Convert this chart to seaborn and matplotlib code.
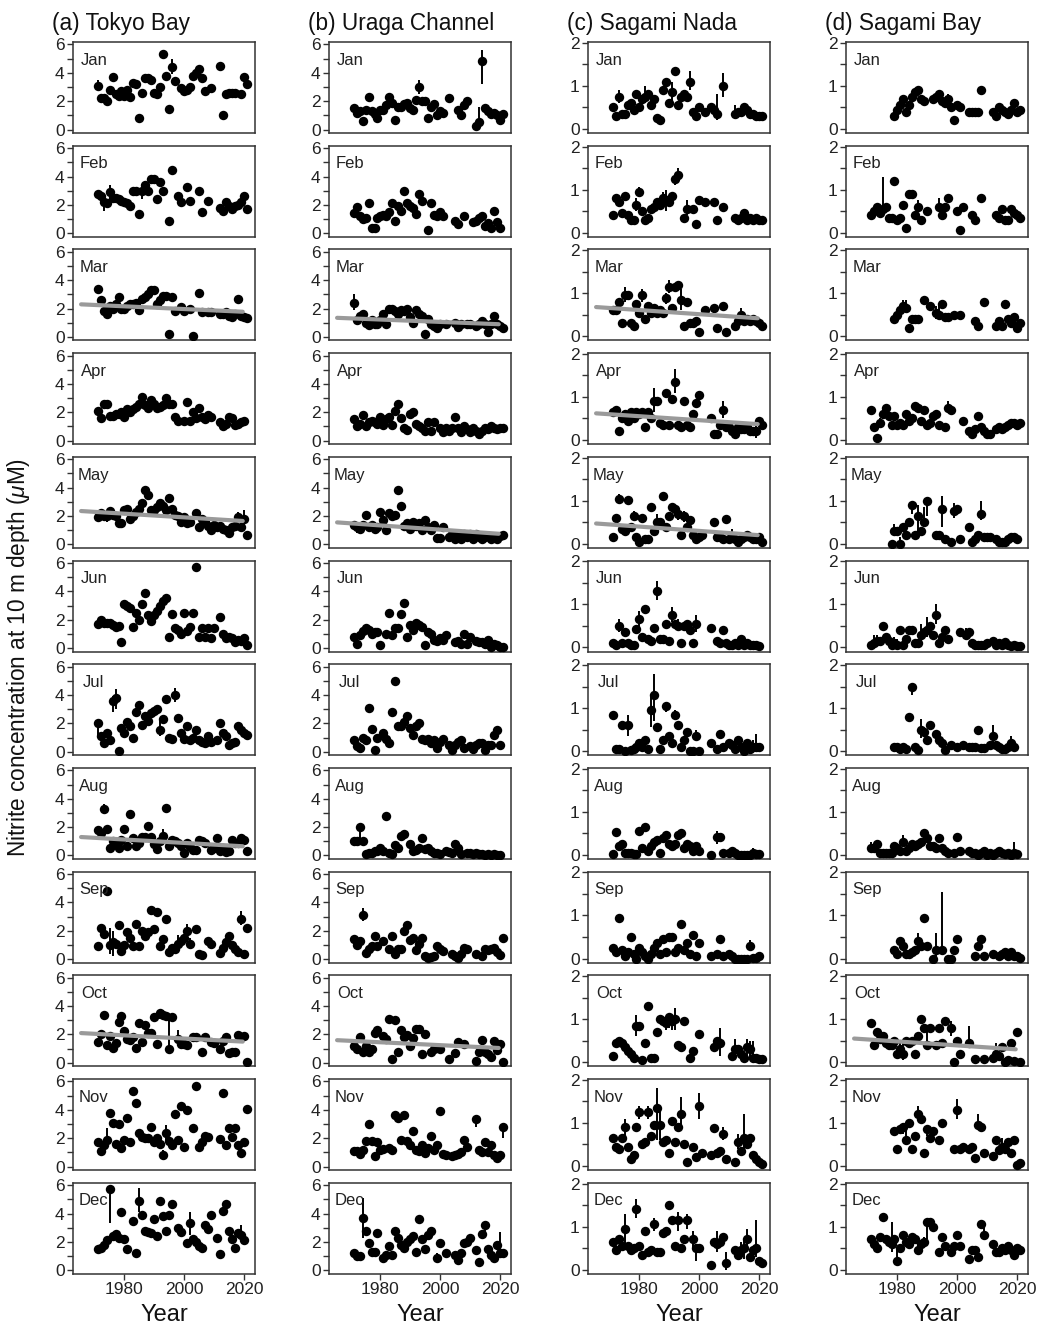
import numpy as np
import pandas as pd
import matplotlib
matplotlib.use("Agg")
import matplotlib.pyplot as plt
import seaborn as sns

sns.set_theme(style="white")
plt.rcParams['font.family'] = ['Liberation Sans', 'DejaVu Sans']
plt.rcParams['mathtext.fontset'] = 'custom'
plt.rcParams['mathtext.it'] = 'Liberation Sans:italic'
plt.rcParams['mathtext.rm'] = 'Liberation Sans'

N = None
YEAR0 = 1971
MONTHS = ["Jan", "Feb", "Mar", "Apr", "May", "Jun",
          "Jul", "Aug", "Sep", "Oct", "Nov", "Dec"]
TITLES = ["(a) Tokyo Bay", "(b) Uraga Channel", "(c) Sagami Nada", "(d) Sagami Bay"]
X_TICKS = [1980, 2000, 2020]
TREND_YEARS = [1965.5, 2019.5]

# ---------------- (a) Tokyo Bay ----------------
A_JAN = [3.1,2.25,2.2,2.0,2.8,3.7,2.5,2.4,2.7,2.4, 2.8,2.3,3.3,3.2,0.85,2.6,3.6,3.6,3.5,2.6,
         2.5,3.0,5.3,3.8,1.45,4.4,3.4,N,2.9,2.7, 2.8,3.0,3.8,4.0,4.3,3.6,2.7,N,2.9,N,
         N,4.5,1.0,2.5,2.6,2.6,2.6,N,2.5,3.7, 3.2]
A_FEB = [2.8,2.6,2.2,2.1,2.9,2.5,2.5,2.4,2.3,2.2, 2.1,1.9,3.0,3.0,1.35,3.0,3.4,3.0,3.8,3.8,
         2.4,3.6,3.0,N,0.9,4.45,N,2.6,2.2,N, 3.25,2.25,N,N,3.0,1.5,N,2.25,N,N,
         N,1.8,1.6,2.2,1.9,1.7,1.9,2.0,2.2,2.6, 1.7]
A_MAR = [3.4,2.6,1.8,1.65,2.2,1.95,2.3,2.8,1.95,2.0, 2.2,2.3,2.3,2.4,1.9,2.7,2.8,3.0,3.3,3.3,
         2.3,2.6,2.9,2.9,0.2,2.8,1.85,N,2.1,1.85, N,2.0,0.05,N,3.1,1.75,N,1.75,1.75,N,
         N,1.6,1.6,1.75,1.5,1.4,1.65,2.7,1.5,1.4, 1.35]
A_APR = [2.1,1.6,2.6,2.6,1.75,1.75,1.9,1.9,2.0,1.7, 2.2,2.0,2.2,2.4,2.6,3.1,2.5,2.3,2.9,2.6,
         2.3,2.4,2.5,3.0,2.6,2.6,1.7,1.4,N,1.4, 2.7,1.4,2.0,1.6,2.3,1.7,1.5,1.8,1.7,N,
         N,1.3,1.0,1.2,1.7,1.6,1.1,1.2,1.3,1.4, N]
A_MAY = [1.9,2.2,2.0,2.0,2.35,2.1,2.0,1.5,1.5,2.4, 2.5,1.8,2.0,2.3,2.5,2.9,3.8,3.5,2.4,2.4,
         2.6,2.9,2.7,2.4,3.3,2.5,2.1,2.0,1.6,1.9, 1.5,1.6,N,2.2,1.2,1.8,1.6,1.3,1.0,1.4,
         1.2,1.3,1.1,1.0,0.8,1.2,1.3,1.9,1.2,1.8, 0.65]
A_JUN = [1.7,2.0,1.8,1.8,1.8,1.6,1.5,1.55,0.4,3.1, 3.0,2.8,1.5,2.5,2.0,3.1,3.9,2.3,1.9,2.3,
         2.6,3.0,3.3,3.5,0.8,2.4,1.4,1.3,1.0,2.45, 1.2,1.5,2.45,5.7,0.8,1.4,0.8,1.4,0.7,1.4,
         N,2.2,1.0,0.7,0.8,0.7,0.45,0.6,0.5,0.7, 0.2]
A_JUL = [2.0,1.1,0.65,1.3,0.8,3.6,3.8,0.05,1.7,1.3, 2.1,1.8,0.95,2.8,3.3,1.9,2.5,2.2,2.7,2.9,
         3.0,1.5,2.3,3.7,1.0,0.9,4.0,2.4,1.3,0.9, 1.8,0.8,1.0,1.5,0.8,0.7,0.6,1.1,0.7,N,
         0.85,2.0,1.3,1.1,0.5,0.6,0.7,1.8,1.5,1.3, 1.2]
A_AUG = [1.8,1.6,3.25,1.85,0.5,1.0,0.8,0.55,1.1,1.85, 0.65,2.9,1.25,0.7,0.9,1.3,1.3,2.1,1.3,0.8,
         0.45,1.0,1.4,3.35,0.7,1.1,1.0,0.9,0.7,0.2, 0.9,0.6,0.4,0.4,1.1,1.0,0.9,N,0.4,0.5,
         1.25,0.3,0.5,0.25,0.3,1.1,0.9,0.9,1.2,1.1, 0.3]
A_SEP = [0.9,2.2,1.8,4.8,1.0,1.2,1.1,2.4,0.6,1.0, 1.9,1.5,0.9,2.5,0.9,2.0,1.6,1.9,3.5,2.1,
         3.3,0.9,1.4,2.8,0.5,0.8,0.7,1.1,1.3,1.5, 2.0,1.1,N,2.1,0.4,0.3,N,1.3,1.1,N,
         N,0.45,0.8,1.2,1.6,1.0,0.7,0.5,2.8,0.35, 2.2]
A_OCT = [1.5,2.0,3.35,1.25,1.9,1.05,1.4,2.9,3.3,2.25, 1.7,1.6,1.85,1.05,2.8,1.5,2.7,2.1,2.1,3.2,
         1.3,3.5,3.4,3.3,0.95,3.25,N,1.7,1.3,1.3, 1.25,N,1.8,1.8,N,0.75,1.85,N,1.5,1.4,
         N,1.0,1.55,1.8,0.7,0.75,0.75,1.95,1.85,1.9, 0.05]
A_NOV = [1.7,1.1,1.5,1.9,3.8,3.1,1.6,3.0,1.3,1.9, 3.4,1.75,5.35,4.5,2.35,2.1,2.0,2.0,2.8,1.75,
         2.0,1.6,0.85,2.35,1.8,1.5,3.7,1.85,4.3,1.35, 4.0,N,2.7,5.7,1.35,1.7,2.15,2.1,N,N,
         N,1.95,5.15,1.55,2.75,2.1,2.7,1.5,0.95,1.75, 4.05]
A_DEC = [1.5,1.55,1.8,2.1,5.7,2.4,2.55,2.3,4.1,2.2, 1.5,N,3.5,1.25,4.9,3.9,2.8,2.7,2.6,3.6,
         2.4,4.9,3.8,2.75,3.9,4.7,N,3.0,2.7,N, 1.9,3.3,2.2,2.0,1.7,1.6,3.2,2.9,3.9,N,
         2.3,1.15,4.2,4.7,2.8,2.2,1.55,2.6,2.5,2.1, N]
A_ERR = {
    "Jan": {1971: (2.8, 3.5), 1996: (3.9, 5.0), 2017: (2.2, 2.8)},
    "Feb": {1973: (1.6, 2.8), 1975: (2.5, 3.4), 1986: (2.4, 3.5)},
    "May": {1974: (1.6, 2.35), 1999: (1.2, 2.0), 2018: (1.6, 2.3), 2020: (1.4, 2.4)},
    "Jul": {1971: (1.0, 2.0), 1976: (2.8, 3.9), 1977: (3.0, 4.4), 1992: (1.1, 2.3),
            1997: (3.5, 4.5), 2000: (0.6, 1.2), 2014: (0.8, 1.5)},
    "Aug": {1973: (3.0, 3.6), 1993: (1.1, 1.9), 2019: (0.9, 1.5)},
    "Sep": {1972: (1.8, 2.5), 1973: (1.4, 2.2), 1975: (0.4, 2.2), 1976: (0.2, 2.0),
            1998: (0.8, 1.7), 2001: (1.7, 2.5), 2002: (0.8, 1.5), 2019: (2.4, 3.4)},
    "Oct": {1992: (3.1, 3.8), 1993: (3.0, 3.7), 1995: (0.95, 3.3), 1998: (1.3, 2.3)},
    "Nov": {1974: (1.5, 2.7), 1993: (0.5, 1.2), 1994: (1.8, 2.9)},
    "Dec": {1975: (3.3, 5.7), 1985: (4.1, 5.8), 1995: (3.6, 4.2), 2002: (2.5, 4.1), 2019: (2.2, 3.2)},
}
A_TREND = {"Mar": (2.30, 1.78), "May": (2.35, 1.65), "Aug": (1.30, 0.65), "Oct": (2.10, 1.50)}

# ---------------- (b) Uraga Channel ----------------
B_JAN = [1.5,1.2,1.3,0.6,1.4,2.3,1.3,1.1,0.85,1.4, 1.4,1.7,2.3,1.9,0.7,1.6,1.6,1.8,1.9,1.5,
         1.4,2.1,3.0,2.0,2.0,0.8,1.6,1.8,1.0,1.3, 1.2,N,2.2,N,N,1.4,1.0,1.7,2.0,N,
         N,0.25,0.5,4.8,1.5,1.3,1.1,1.2,1.0,0.7, 1.1]
B_FEB = [1.4,1.85,1.2,1.0,1.1,2.1,0.35,0.35,1.1,1.2, 1.3,1.2,1.5,2.1,0.9,1.9,1.6,3.0,2.1,1.9,
         1.8,1.35,2.75,2.3,N,0.25,2.1,1.3,1.2,1.5, 1.2,N,N,N,0.9,0.65,N,1.2,N,N,
         0.8,0.85,1.1,1.2,0.5,0.75,0.4,1.55,0.8,0.4, N]
B_MAR = [2.4,1.2,1.5,1.6,1.0,0.85,1.2,0.9,0.9,1.2, 1.65,0.9,2.0,2.0,1.8,1.6,1.9,1.8,2.0,1.4,
         1.0,1.9,1.6,1.5,0.2,1.3,0.9,0.75,0.6,0.9, N,0.9,N,N,1.0,0.7,0.9,N,0.9,0.9,
         N,0.8,0.9,1.1,0.9,0.35,0.9,1.5,0.9,0.8, 0.6]
B_APR = [1.55,1.0,1.2,1.8,1.0,1.3,1.4,1.3,1.2,1.7, 1.1,1.5,1.7,1.1,2.1,2.6,1.6,0.9,0.75,1.9,
         2.0,1.2,1.0,0.9,0.7,1.3,0.7,1.3,N,0.9, 0.6,0.9,0.7,0.9,1.7,0.9,0.6,1.0,0.8,0.6,
         0.9,0.7,0.5,0.7,0.9,0.8,1.0,0.9,0.85,0.9, 0.9]
B_MAY = [1.4,1.2,1.1,1.4,2.1,1.2,1.4,1.1,1.2,2.3, 1.7,1.0,2.2,2.0,2.1,3.8,2.7,1.3,1.5,1.1,
         1.6,1.3,1.5,1.0,1.75,1.2,1.0,1.4,0.45,0.45, 1.2,N,0.5,0.7,0.35,0.7,0.4,0.7,0.5,0.7,
         0.4,0.7,0.5,0.4,0.5,0.6,0.4,0.5,0.35,0.6, 0.65]
B_JUN = [0.8,0.3,0.9,1.2,1.4,1.3,1.0,1.1,1.1,0.2, N,1.0,2.5,0.9,1.4,1.4,2.4,3.2,0.8,1.6,
         1.3,1.8,1.6,1.5,0.25,1.1,1.0,0.6,0.5,0.7, 0.6,0.9,N,N,0.4,0.5,0.3,1.0,0.3,0.8,
         N,0.5,0.4,0.4,0.3,0.6,0.1,0.3,0.25,0.1, 0.05]
B_JUL = [0.85,0.4,0.25,1.0,0.8,3.1,1.6,0.1,0.95,N, 1.3,0.9,0.6,2.8,5.0,1.8,1.8,2.1,2.5,1.7,
         1.2,1.8,2.0,0.9,0.8,0.9,0.6,0.8,0.3,0.7, 0.9,N,0.5,0.1,0.5,0.7,0.8,0.3,N,0.4,
         0.2,0.5,0.6,0.6,0.15,0.5,0.5,1.2,1.5,0.45, N]
B_AUG = [1.0,1.0,2.0,1.0,0.1,0.2,0.2,0.3,0.35,0.5, 0.3,2.8,0.2,0.1,0.75,0.5,1.4,1.5,N,0.8,
         0.3,0.4,0.5,1.25,0.45,0.5,0.3,0.2,0.15,0.1, N,0.3,0.25,0.15,0.8,0.5,0.1,N,0.2,0.15,
         0.1,0.2,0.1,0.1,0.05,0.1,0.05,0.1,0.05,0.05, N]
B_SEP = [1.4,1.0,1.3,3.1,0.45,0.7,0.9,1.6,0.9,N, 1.3,N,0.7,1.65,0.4,0.75,0.7,2.0,2.4,1.35,
         1.5,0.65,1.1,1.5,0.25,0.1,0.15,0.2,0.9,0.75, 0.6,N,N,0.35,0.2,0.1,0.4,0.8,0.7,N,
         N,0.4,N,0.2,0.7,0.65,0.7,0.8,0.5,0.3, 1.5]
B_OCT = [1.2,1.0,1.85,0.8,1.2,0.75,1.0,2.1,2.35,N, 1.9,1.7,3.1,0.3,3.0,0.8,2.35,1.8,1.95,1.2,
         1.75,2.4,2.4,0.65,2.0,N,0.8,1.0,N,1.0, N,N,0.25,N,0.7,1.5,N,1.3,N,N,
         N,0.1,0.8,1.6,0.8,0.6,0.45,1.55,0.9,1.3, 0.05]
B_NOV = [1.1,1.1,0.9,1.15,1.8,3.0,1.8,0.75,1.75,1.2, 1.25,N,1.3,1.2,3.6,3.4,1.9,3.6,1.8,1.5,
         2.5,1.2,1.1,1.5,0.95,1.3,2.15,1.2,1.5,3.9, 0.9,0.8,N,0.75,0.8,0.9,1.0,1.9,1.4,N,
         N,3.35,1.2,1.0,1.7,1.0,1.5,0.8,0.6,0.85, 2.8]
B_DEC = [1.2,1.0,1.0,3.7,2.8,1.9,1.3,1.3,2.6,N, 0.9,1.1,1.7,1.1,2.8,2.3,1.8,1.6,2.0,2.2,
         2.4,1.3,3.6,2.2,1.5,2.5,2.8,N,0.85,1.9, N,1.2,N,N,1.05,0.75,1.2,1.9,2.0,2.25,
         N,1.4,0.6,2.55,3.2,1.5,1.1,0.9,1.8,1.2, 1.25]
B_ERR = {
    "Jan": {1971: (1.2, 1.8), 1993: (2.5, 3.5), 2013: (0.5, 1.6), 2014: (3.2, 5.6)},
    "Mar": {1971: (1.9, 3.0)},
    "May": {1972: (0.8, 1.4)},
    "Aug": {1972: (0.65, 1.3), 1973: (1.2, 2.1)},
    "Sep": {1972: (0.7, 1.2), 1974: (2.7, 3.6), 1991: (1.2, 1.8)},
    "Oct": {1972: (0.7, 1.2)},
    "Nov": {1973: (0.7, 1.2), 2012: (2.8, 3.6), 2021: (2.0, 3.0)},
    "Dec": {1974: (2.3, 5.1), 1999: (0.6, 1.2), 2015: (2.7, 3.4), 2020: (1.2, 2.7)},
}
B_TREND = {"Mar": (1.35, 0.90), "May": (1.55, 0.75), "Oct": (1.60, 1.05)}

# ---------------- (c) Sagami Nada ----------------
C_JAN = [0.5,0.3,0.75,0.35,0.35,0.55,0.6,0.45,0.8,0.5, 0.7,0.75,0.8,0.55,0.7,0.25,0.2,0.9,1.1,0.6,
         0.85,1.35,0.55,0.75,0.8,0.75,1.1,0.4,0.3,0.5, N,0.4,N,0.5,0.45,0.35,N,1.0,N,N,
         N,0.35,0.4,0.4,0.5,0.45,0.35,0.35,0.3,0.3, 0.3]
C_FEB = [0.4,0.8,0.7,0.45,0.85,0.4,0.3,0.3,0.65,0.95, 0.5,0.3,0.35,0.55,0.6,0.7,0.65,0.8,0.75,0.7,
         0.85,1.25,1.35,N,0.35,0.55,N,0.55,0.2,0.75, N,0.7,N,N,0.7,0.3,N,0.6,N,N,
         N,0.35,0.3,0.35,0.45,0.3,0.35,0.3,0.35,0.3, 0.3]
C_MAR = [0.6,0.6,0.8,0.3,0.95,0.95,0.3,0.25,0.75,0.55, 0.95,0.4,0.7,0.55,0.65,0.55,0.6,0.55,0.9,1.15,
         0.65,1.15,1.2,0.85,0.25,0.8,0.3,0.3,0.35,0.1, N,0.6,N,N,0.65,0.2,N,0.7,0.1,N,
         N,0.25,0.35,0.5,0.35,0.4,0.35,0.4,0.35,0.3, 0.25]
C_APR = [0.65,0.7,0.2,0.5,0.6,0.45,0.65,0.5,0.65,0.6, 0.65,0.3,0.65,0.5,0.9,0.9,0.4,0.35,1.1,0.35,
         0.95,1.35,0.35,0.3,0.9,0.35,0.3,0.6,0.85,1.05, N,N,N,0.5,0.15,0.15,0.35,0.7,0.3,0.3,
         0.2,0.15,0.3,0.25,0.25,0.3,0.2,0.2,0.2,0.45, 0.35]
C_MAY = [0.15,0.6,1.05,0.35,0.3,1.02,0.4,0.65,0.15,0.05, 0.6,0.1,0.1,0.85,0.3,0.5,0.5,1.1,0.4,0.65,
         0.85,0.8,0.7,0.2,0.65,0.4,0.55,0.2,0.1,0.15, 0.2,N,N,N,0.5,0.15,0.15,0.1,0.58,0.1,
         0.15,0.1,0.05,0.1,0.15,0.2,0.15,0.1,0.1,0.15, 0.05]
C_JUN = [0.1,0.05,0.5,0.1,0.35,0.1,0.05,0.05,0.42,0.65, 0.25,0.9,0.2,0.15,0.45,1.3,0.2,0.2,0.55,0.15,
         0.75,0.55,0.5,0.1,0.5,0.55,0.4,0.1,0.55,N, N,N,N,0.45,N,0.15,0.1,0.4,0.1,0.05,
         0.05,0.1,0.05,0.2,0.05,0.1,0.05,0.05,0.05,0.03, N]
C_JUL = [0.85,0.05,0.05,0.6,0.0,0.6,0.02,0.05,0.1,0.2, 0.1,0.25,0.05,0.95,1.3,0.55,0.05,0.25,1.05,0.35,
         0.2,0.85,0.6,0.1,0.25,0.45,0.0,0.0,0.35,0.0, N,N,N,0.2,N,0.05,0.4,0.1,N,0.2,
         0.15,0.05,0.25,0.1,0.0,0.2,0.05,0.1,0.1,0.1, N]
C_AUG = [0.02,0.53,0.2,0.25,0.05,0.05,0.05,0.03,0.02,0.55, 0.15,0.65,0.1,0.2,0.3,0.35,0.05,0.4,0.45,0.25,
         0.2,0.25,0.45,0.5,0.15,0.25,0.2,0.1,0.2,0.1, N,N,N,0.0,N,0.42,0.42,0.05,N,0.05,
         0.08,0.05,0.0,0.0,0.0,0.0,0.0,0.05,0.02,0.02, N]
C_SEP = [0.25,0.15,0.95,0.2,0.05,0.15,0.5,0.1,0.0,0.25, 0.15,0.05,0.0,0.1,0.25,0.35,0.1,0.45,0.15,0.5,
         0.5,0.15,0.25,0.8,0.2,0.35,0.1,0.55,0.05,0.35, N,N,N,0.05,N,0.1,0.45,0.05,N,0.1,
         0.05,0.0,0.0,0.0,0.0,0.0,0.3,0.02,0.02,0.05, N]
C_OCT = [0.15,0.45,0.5,0.45,0.35,0.25,0.2,0.1,0.85,0.85, 0.05,0.45,1.3,0.1,0.1,0.7,1.0,0.95,0.9,1.05,
         0.95,1.0,0.4,0.35,0.95,N,0.1,0.25,N,0.65, N,N,N,N,0.35,0.5,0.45,N,N,N,
         0.15,0.3,0.3,0.2,0.1,0.35,0.3,0.1,0.1,0.08, 0.08]
C_NOV = [0.65,0.45,0.4,0.65,0.9,0.45,0.15,0.25,0.9,1.25, 0.5,0.55,1.25,0.7,0.95,1.35,0.95,0.55,0.6,0.3,
         1.05,0.55,0.9,1.2,0.5,0.1,N,0.45,0.2,1.4, 0.3,N,N,0.25,0.87,0.3,0.35,0.75,0.15,N,
         N,0.1,0.55,0.35,0.65,0.5,0.65,0.25,0.15,0.1, 0.05]
C_DEC = [0.65,0.45,0.7,0.55,0.95,0.55,0.45,0.5,1.4,0.55, 0.35,0.9,0.4,0.45,1.05,0.4,0.4,0.85,0.9,1.5,
         1.15,0.55,1.15,0.5,0.7,1.15,N,0.7,0.5,0.5, N,N,N,0.1,0.65,0.6,0.65,0.75,0.15,N,
         N,0.45,0.35,0.45,0.5,0.7,0.3,0.45,0.5,0.2, 0.15]
C_ERR = {
    "Jan": {1973: (0.6, 0.9), 1982: (0.6, 1.0), 1991: (0.6, 1.1), 1997: (0.9, 1.35),
            2006: (0.2, 0.8), 2008: (0.75, 1.3), 2012: (0.3, 0.55), 2015: (0.4, 0.6)},
    "Feb": {1979: (0.5, 0.8), 1980: (0.85, 1.05), 1988: (0.6, 0.95), 1989: (0.5, 1.0),
            1992: (1.1, 1.35), 1993: (1.2, 1.5), 1996: (0.4, 0.75), 2002: (0.6, 0.8)},
    "Mar": {1975: (0.8, 1.15), 1981: (0.8, 1.1), 1989: (0.75, 1.0), 1990: (1.0, 1.3),
            1994: (0.6, 1.1), 2014: (0.4, 0.65)},
    "Apr": {1975: (0.5, 0.7), 1979: (0.55, 0.75), 1985: (0.65, 1.2), 1992: (1.1, 1.65),
            2000: (0.95, 1.15), 2008: (0.5, 0.9), 2019: (0.05, 0.35)},
    "May": {1973: (0.95, 1.15), 1975: (0.2, 0.4), 1978: (0.55, 0.75), 1986: (0.35, 0.7),
            1992: (0.65, 0.9), 1993: (0.55, 0.8), 1995: (0.5, 0.75), 2011: (0.05, 0.35)},
    "Jun": {1973: (0.35, 0.65), 1980: (0.45, 0.85), 1986: (1.1, 1.55), 1991: (0.6, 0.95),
            1993: (0.4, 0.65), 1999: (0.35, 0.75)},
    "Jul": {1974: (0.5, 0.7), 1976: (0.35, 0.85), 1984: (0.55, 1.3), 1985: (0.7, 1.8),
            1989: (0.9, 1.15), 1992: (0.75, 0.95), 1999: (0.25, 0.5), 2013: (0.15, 0.35),
            2018: (0.0, 0.25), 2019: (0.0, 0.4)},
    "Aug": {2006: (0.25, 0.55), 2018: (0.0, 0.15)},
    "Sep": {2017: (0.2, 0.42)},
    "Oct": {1979: (0.6, 1.1), 1989: (0.75, 1.05), 1990: (0.8, 1.1), 1991: (0.75, 1.05),
            1992: (0.75, 1.25), 2007: (0.15, 0.8), 2012: (0.3, 0.55), 2016: (0.1, 0.55),
            2017: (0.1, 0.5), 2018: (0.05, 0.5)},
    "Nov": {1975: (0.7, 1.1), 1980: (1.1, 1.4), 1983: (1.1, 1.4), 1986: (0.6, 1.8),
            1987: (0.6, 1.3), 1994: (0.9, 1.6), 2000: (1.1, 1.7), 2008: (0.6, 0.9),
            2013: (0.4, 0.75), 2015: (0.35, 1.2)},
    "Dec": {1975: (0.6, 1.3), 1979: (1.2, 1.65), 1985: (0.9, 1.2), 1993: (0.9, 1.35),
            1996: (0.95, 1.3), 1998: (0.5, 0.9), 1999: (0.2, 0.6), 2006: (0.4, 0.9),
            2009: (0.0, 0.4), 2014: (0.25, 0.65), 2015: (0.25, 0.7), 2016: (0.5, 0.95),
            2019: (0.3, 1.15)},
}
C_TREND = {"Mar": (0.68, 0.42), "Apr": (0.62, 0.37), "May": (0.47, 0.20)}

# ---------------- (d) Sagami Bay ----------------
D_JAN = [N,N,N,N,N,N,N,N,0.3,0.45, 0.55,0.7,0.4,0.55,0.75,0.85,0.9,0.7,0.65,N,
         N,0.7,0.75,0.8,0.65,0.6,0.7,0.5,0.2,0.55, 0.5,N,N,0.4,0.4,0.4,0.4,0.9,N,N,
         N,0.4,0.3,0.5,0.45,0.4,0.35,0.45,0.6,0.4, 0.45]
D_FEB = [0.4,0.5,0.6,0.45,0.55,0.6,0.35,0.35,1.2,0.3, 0.35,0.65,0.1,0.9,0.9,0.4,0.6,0.3,N,0.5,
         N,N,N,0.6,0.4,0.6,0.8,N,N,0.5, 0.05,0.6,N,N,0.4,0.3,N,0.8,N,N,
         N,N,0.4,0.35,0.55,0.3,0.3,0.55,0.45,0.4, 0.35]
D_MAR = [N,N,N,N,N,N,N,N,0.4,0.5, 0.6,0.7,0.65,0.2,0.4,0.4,0.4,N,0.85,N,
         0.7,N,0.55,0.5,0.75,0.45,0.45,N,0.5,N, 0.5,N,N,N,N,0.35,0.25,N,0.8,N,
         N,N,0.25,0.35,0.25,0.75,0.4,0.3,0.45,0.2, 0.3]
D_APR = [0.7,0.3,0.05,0.4,0.6,0.75,0.55,0.35,0.55,0.35, 0.4,0.35,0.6,0.45,0.5,0.8,0.75,0.45,0.7,0.35,
         0.4,0.55,0.6,0.35,N,0.3,0.75,0.7,N,N, N,0.45,N,0.2,0.15,0.25,0.55,0.3,0.2,0.15,
         0.15,N,0.25,0.3,0.25,0.3,0.35,0.4,0.4,0.35, 0.4]
D_MAY = [N,N,N,N,N,N,N,0.0,0.3,0.3, 0.0,0.4,0.2,0.5,0.9,0.2,0.65,0.3,0.5,1.0,
         N,N,0.2,0.2,0.8,0.1,N,0.05,0.75,0.8, 0.1,N,N,0.4,0.05,0.1,0.2,0.68,0.15,0.15,
         0.15,N,0.1,0.05,0.05,0.05,0.1,0.15,0.15,0.1, N]
D_JUN = [0.05,0.1,0.15,0.15,0.5,0.25,0.15,0.05,0.1,0.05, 0.4,0.05,0.2,0.4,0.4,0.1,0.1,0.3,0.35,0.4,
         0.5,0.3,0.75,0.1,0.25,0.4,0.2,N,N,N, 0.35,N,0.3,0.35,0.1,0.05,0.05,0.05,0.05,0.1,
         N,0.15,0.05,0.1,0.05,0.12,0.05,0.03,0.05,0.03, 0.03]
D_JUL = [N,N,N,N,N,N,N,N,0.1,0.1, 0.05,0.1,0.05,0.8,1.5,0.1,0.02,0.5,0.45,0.25,
         0.6,N,0.4,0.25,0.2,0.02,N,0.15,N,0.1, N,0.15,N,0.1,0.1,0.1,0.5,0.08,0.08,N,
         0.15,0.35,0.15,0.1,0.05,0.05,0.1,0.2,0.1,N, N]
D_AUG = [0.15,0.15,0.25,0.05,0.05,0.05,0.05,0.05,0.2,0.15, 0.1,0.3,0.1,0.15,0.25,0.2,0.25,0.3,0.5,0.4,
         0.2,0.2,0.15,0.4,0.15,0.1,0.05,N,0.05,0.42, 0.1,N,N,0.1,0.05,0.05,0.0,0.05,0.1,0.0,
         0.05,0.0,0.05,0.08,0.05,0.02,0.05,0.0,0.05,0.02, N]
D_SEP = [N,N,N,N,N,N,N,N,0.2,0.1, 0.4,0.3,0.1,0.1,0.15,0.2,0.4,0.3,0.95,0.3,
         N,0.0,0.2,N,0.2,N,0.0,0.0,0.2,0.45, N,N,N,N,N,0.05,0.3,0.45,0.05,N,
         N,0.1,N,0.05,0.1,0.15,0.05,0.15,0.05,0.05, 0.02]
D_OCT = [0.9,0.4,0.7,0.55,0.6,0.45,0.4,0.4,0.5,0.2, 0.3,0.2,0.5,0.45,0.5,0.2,0.6,1.0,0.8,0.4,
         0.8,N,0.4,0.8,0.45,0.95,N,0.8,0.0,0.5, 0.2,N,N,0.45,N,0.08,N,N,0.08,N,
         N,0.1,0.2,0.15,0.35,0.0,0.05,0.45,0.02,0.7, 0.0]
D_NOV = [N,N,N,N,N,N,N,N,0.8,0.4, 0.85,0.9,0.6,1.0,0.4,0.7,1.2,1.1,0.3,0.85,
         0.65,0.8,N,0.6,1.0,N,N,N,0.4,1.3, 0.4,0.45,N,0.4,0.45,0.18,0.95,0.9,0.3,N,
         N,0.22,0.6,0.38,0.45,0.4,0.55,0.3,0.6,0.02, 0.07]
D_DEC = [0.7,0.6,0.5,0.75,1.22,0.7,0.65,0.6,0.7,0.2, 0.5,0.8,0.65,0.6,0.75,0.7,0.45,0.6,0.65,1.1,
         1.1,1.0,N,0.4,0.75,0.55,N,0.4,0.55,0.8, 0.55,N,N,0.25,0.45,0.45,0.3,1.05,0.8,N,
         N,0.6,0.4,0.4,0.5,0.45,0.55,0.45,0.35,0.5, 0.45]
D_ERR = {
    "Jan": {1997: (0.6, 0.8), 2008: (0.8, 0.95)},
    "Feb": {1975: (0.45, 1.3), 1987: (0.5, 0.75), 1994: (0.5, 0.8)},
    "Mar": {1982: (0.55, 0.85), 1983: (0.55, 0.85), 1993: (0.4, 0.7), 1994: (0.4, 0.75),
            1995: (0.65, 0.85), 2016: (0.65, 0.85)},
    "Apr": {1974: (0.3, 0.5), 1975: (0.5, 0.75), 1993: (0.5, 0.7), 1997: (0.7, 0.9)},
    "May": {1979: (0.3, 0.45), 1981: (0.0, 0.15), 1985: (0.7, 0.95), 1987: (0.3, 0.9),
            1989: (0.4, 0.85), 1990: (0.65, 1.05), 1995: (0.4, 1.1), 1999: (0.6, 0.95),
            2008: (0.55, 1.0)},
    "Jun": {1972: (0.05, 0.3), 1973: (0.1, 0.3), 1979: (0.05, 0.25), 1980: (0.0, 0.2),
            1988: (0.15, 0.55), 1990: (0.25, 0.7), 1993: (0.55, 1.0), 1996: (0.25, 0.5),
            2003: (0.2, 0.45)},
    "Jul": {1985: (1.3, 1.55), 1988: (0.3, 0.75), 1994: (0.15, 0.45), 2012: (0.2, 0.6),
            2018: (0.05, 0.35)},
    "Aug": {1971: (0.05, 0.3), 1982: (0.2, 0.45), 1990: (0.3, 0.55), 2019: (0.0, 0.3)},
    "Sep": {1982: (0.2, 0.45), 1987: (0.3, 0.6), 1993: (0.0, 0.6), 1995: (0.1, 1.55)},
    "Oct": {1975: (0.5, 0.7), 1981: (0.25, 0.5), 1982: (0.05, 0.45), 1990: (0.4, 0.85),
            1995: (0.4, 0.55), 1998: (0.6, 0.95), 2004: (0.4, 0.85), 2013: (0.15, 0.45),
            2015: (0.25, 0.42)},
    "Nov": {1982: (0.75, 1.0), 1983: (0.5, 0.85), 1987: (1.1, 1.4), 1990: (0.7, 0.95),
            2000: (1.1, 1.55), 2005: (0.3, 0.5), 2007: (0.9, 1.2), 2015: (0.35, 0.65)},
    "Dec": {1975: (1.1, 1.3), 1978: (0.4, 1.1), 1980: (0.2, 0.5), 1985: (0.6, 0.8),
            1987: (0.4, 0.65), 1989: (0.55, 0.75), 1990: (0.7, 1.1), 2009: (0.8, 1.0)},
}
D_TREND = {"Oct": (0.55, 0.30)}

REGIONS = [
    (TITLES[0], [A_JAN, A_FEB, A_MAR, A_APR, A_MAY, A_JUN, A_JUL, A_AUG, A_SEP, A_OCT, A_NOV, A_DEC], A_ERR, A_TREND, True),
    (TITLES[1], [B_JAN, B_FEB, B_MAR, B_APR, B_MAY, B_JUN, B_JUL, B_AUG, B_SEP, B_OCT, B_NOV, B_DEC], B_ERR, B_TREND, True),
    (TITLES[2], [C_JAN, C_FEB, C_MAR, C_APR, C_MAY, C_JUN, C_JUL, C_AUG, C_SEP, C_OCT, C_NOV, C_DEC], C_ERR, C_TREND, False),
    (TITLES[3], [D_JAN, D_FEB, D_MAR, D_APR, D_MAY, D_JUN, D_JUL, D_AUG, D_SEP, D_OCT, D_NOV, D_DEC], D_ERR, D_TREND, False),
]

# ---------------- layout (pixels) ----------------
W, H = 1037, 1327
COL_LEFT = [73, 329, 588, 846]
COL_W = 182
ROW_TOP0, ROW_PITCH, ROW_H = 42, 103.7, 91
EDGE = "#333333"

fig = plt.figure(figsize=(W / 100, H / 100), dpi=100)
fig.patch.set_facecolor("white")

for ci, (title, series, errs, trend, big) in enumerate(REGIONS):
    for ri, month in enumerate(MONTHS):
        top = ROW_TOP0 + ri * ROW_PITCH
        ax = fig.add_axes([COL_LEFT[ci] / W, 1 - (top + ROW_H) / H, COL_W / W, ROW_H / H])
        vals = series[ri]
        df = pd.DataFrame({"year": [YEAR0 + i for i in range(len(vals))],
                           "value": [np.nan if v is None else v for v in vals]}).dropna()
        e = errs.get(month, {})
        if e:
            edf = pd.DataFrame({"year": list(e.keys()),
                                "lo": [v[0] for v in e.values()],
                                "hi": [v[1] for v in e.values()]})
            ax.vlines(edf["year"], edf["lo"], edf["hi"], colors="black", linewidth=1.4, zorder=2)
        sns.scatterplot(data=df, x="year", y="value", ax=ax, color="black", s=46,
                        linewidth=0, zorder=3, legend=False)
        if month in trend:
            sns.lineplot(x=TREND_YEARS, y=list(trend[month]), ax=ax, color="#9a9a9a",
                         linewidth=3.0, zorder=4, legend=False)
        ax.set_xlim(1962.8, 2023.6)
        if big:
            ax.set_ylim(-0.24, 6.17)
            ax.set_yticks([0, 1, 2, 3, 4, 5, 6])
            ax.set_yticklabels(["0", "", "2", "", "4", "", "6"])
        else:
            ax.set_ylim(-0.095, 2.02)
            ax.set_yticks([0, 0.5, 1, 1.5, 2])
            ax.set_yticklabels(["0", "", "1", "", "2"])
        if ri == len(MONTHS) - 1:
            ax.set_xticks(X_TICKS)
            ax.set_xticklabels([str(t) for t in X_TICKS])
        else:
            ax.set_xticks([])
        ax.set_xlabel("")
        ax.set_ylabel("")
        for sp in ax.spines.values():
            sp.set_visible(True)
            sp.set_color(EDGE)
            sp.set_linewidth(1.1)
        ax.tick_params(axis="both", which="major", direction="out", length=4, width=1.0,
                       color=EDGE, labelsize=12.5, labelcolor="#222222", pad=2,
                       left=True, bottom=(ri == len(MONTHS) - 1))
        ax.text(0.115, 0.75, month, transform=ax.transAxes, ha="center", va="baseline",
                fontsize=12, color="#222222")
    fig.text((COL_LEFT[ci] - 21) / W, 1 - 30 / H, title, ha="left", va="baseline",
             fontsize=16.3, color="#111111")
    fig.text((COL_LEFT[ci] + COL_W / 2) / W, 1 - 1321 / H, "Year", ha="center",
             va="baseline", fontsize=17, color="#111111")

fig.text(19 / W, 1 - 657 / H, r"Nitrite concentration at 10 m depth ($\mu$M)",
         rotation=90, ha="center", va="center", fontsize=16.3, color="#111111")

fig.savefig("out.png", dpi=100, facecolor="white")
